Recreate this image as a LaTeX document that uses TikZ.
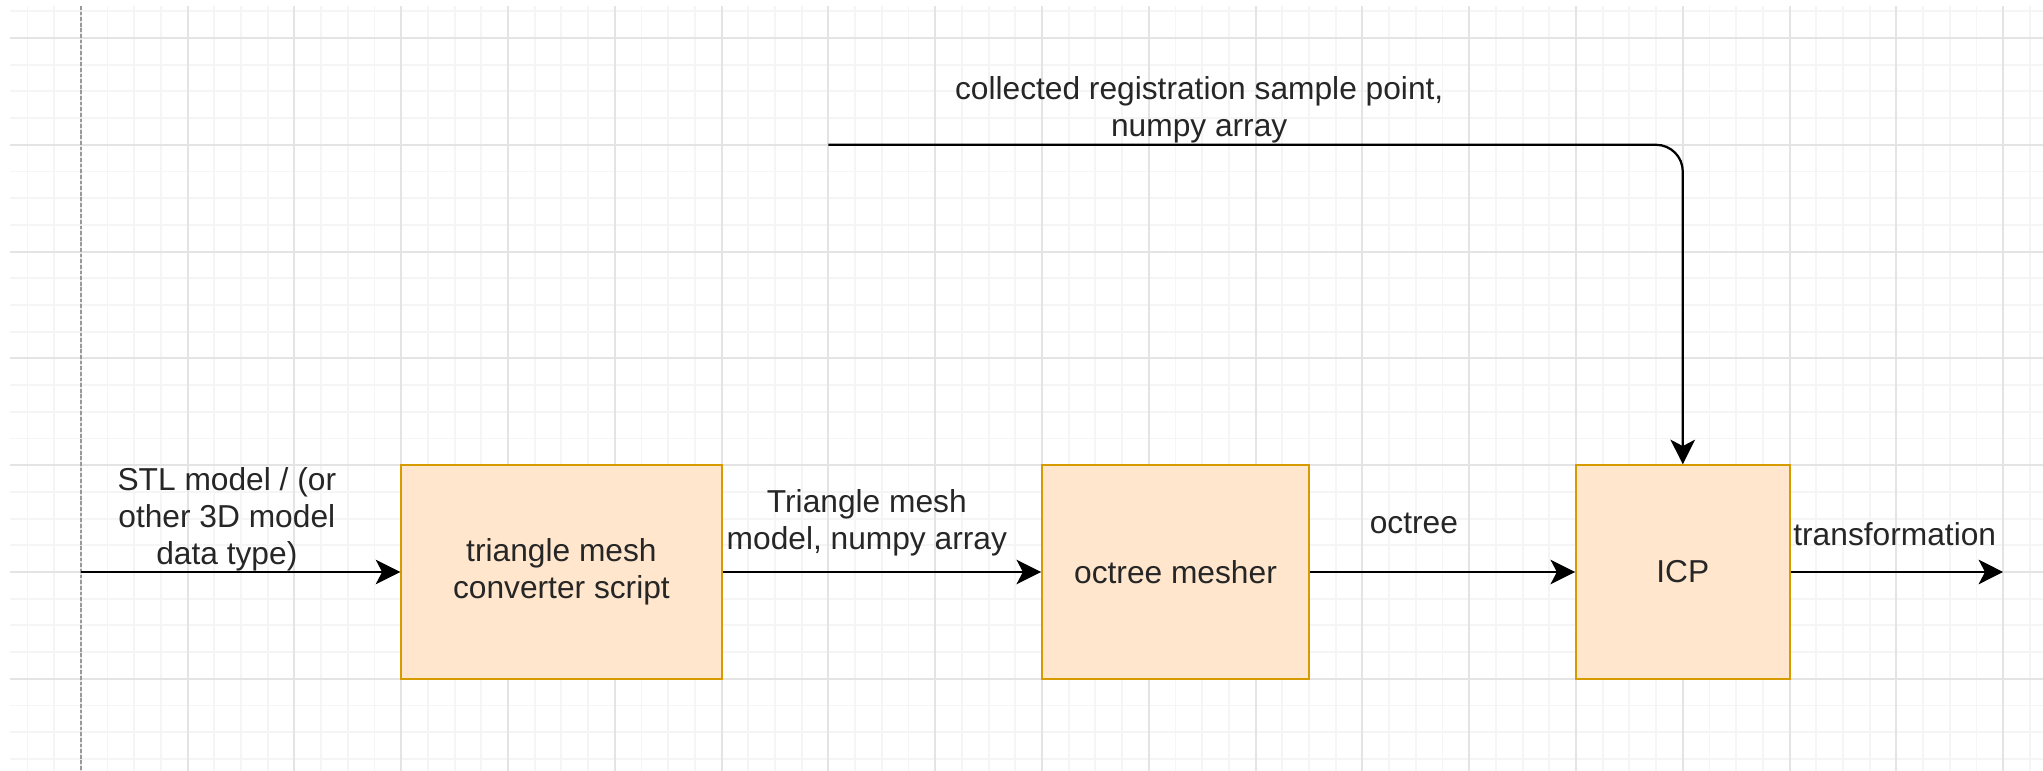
\documentclass[tikz,border=0pt]{standalone}
\usepackage{fontspec}
\setmainfont{Liberation Sans}
\usetikzlibrary{arrows.meta, positioning}
\definecolor{boxfill}{HTML}{FFE6CC}
\definecolor{boxline}{HTML}{D79B00}
\definecolor{gridminor}{HTML}{F5F5F5}
\definecolor{gridmajor}{HTML}{E4E4E4}
\definecolor{pageline}{HTML}{999999}

\begin{document}
\begin{tikzpicture}[
	font=\fontsize{8.45}{9.8}\selectfont,
	block/.style={draw=boxline, line width=0.5pt, fill=boxfill, minimum height=2cm, inner sep=0pt, align=center, text=black!85},
	flow/.style={draw=black, line width=0.6pt, -{Stealth[length=2.3mm, width=2.3mm, inset=0.6mm]}},
	lbl/.style={align=center, inner sep=0pt, text=black!85}
	]
	\useasboundingbox (-0.757,-1.863) rectangle (18.373,5.356);
	% grid of the drawing page
	\draw[gridminor, line width=0.5pt, step=0.25] (-0.663,-1.863) grid (18.373,5.30);
	\draw[gridmajor, line width=0.5pt, step=1] (-0.663,-1.863) grid (18.373,5.30);
	\draw[pageline, line width=0.5pt, dash pattern=on 1pt off 0.5pt] (0,5.30) -- (0,-1.863);

	\node[block, minimum width=3cm] (tri) at (4.5,0) {triangle mesh\\converter script};
	\node[block, minimum width=2.5cm] (oct) at (10.25,0) {octree mesher};
	\node[block, minimum width=2cm] (icp) at (15,0) {ICP};
	\coordinate (stl) at (0,0);
	\coordinate (res) at (18,0);
	\coordinate (pts) at (7,4);

	\draw[flow] (stl) -- node[lbl, above=0pt, pos=0.457] {STL model / (or\\other 3D model\\data type)} (tri);
	\draw[flow] (tri) -- node[lbl, above=0.14cm, pos=0.453] {Triangle mesh\\model, numpy array} (oct);
	\draw[flow] (oct) -- node[lbl, above=0.35cm, pos=0.392] {octree} (icp);
	\draw[flow] (icp) -- node[lbl, above=0.235cm, pos=0.49] {transformation} (res);
	\draw[flow, rounded corners=0.25cm] (pts) -- node[lbl, above=0.01cm, pos=0.434] {collected registration sample point,\\numpy array} (pts -| icp.north) -- (icp.north);
\end{tikzpicture}
\end{document}
